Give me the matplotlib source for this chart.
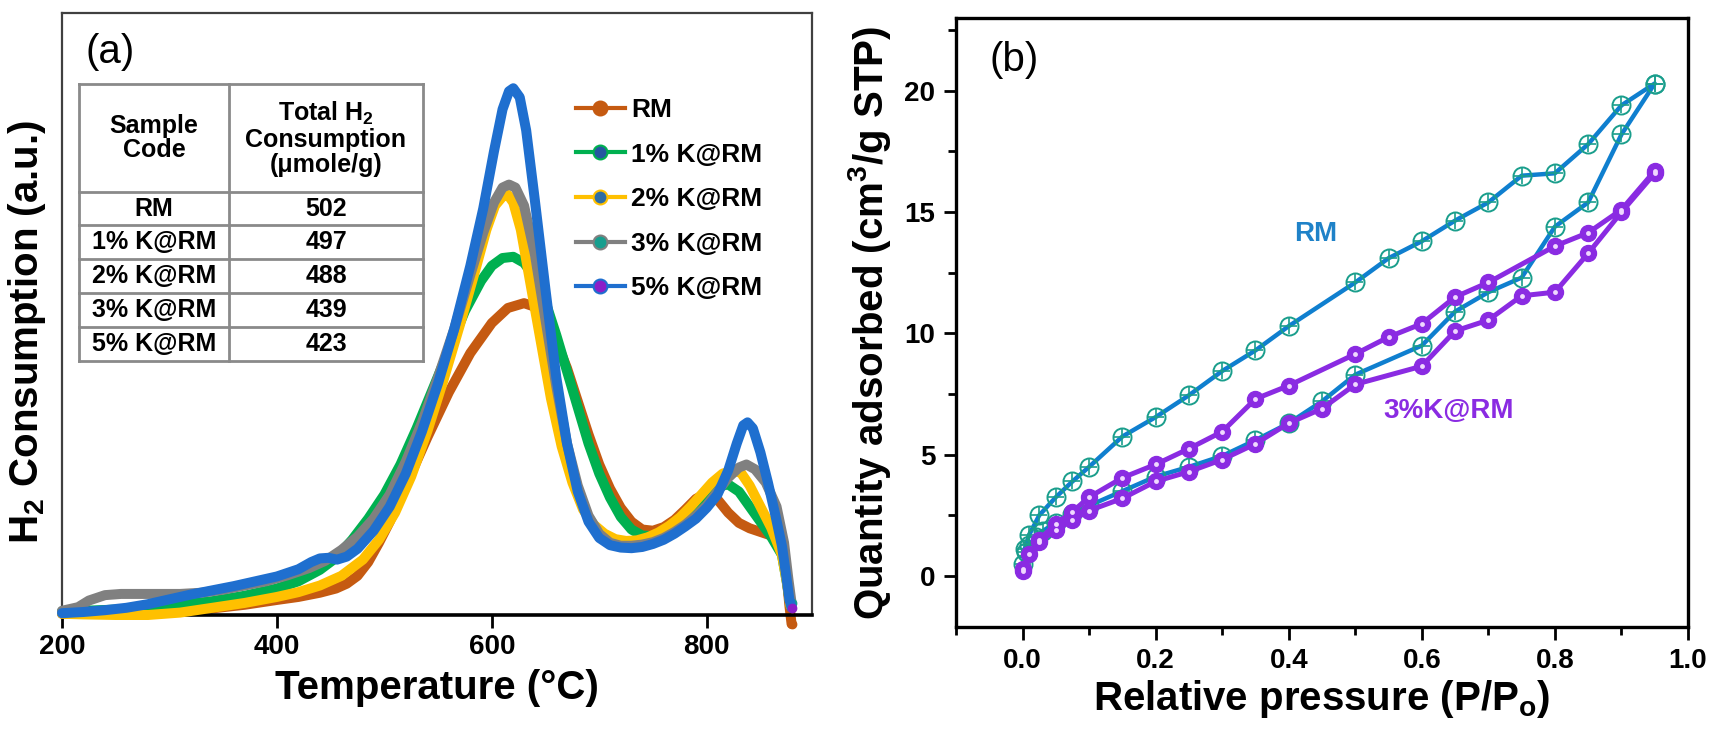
"""H2-TPR profiles (a) and N2 isotherms (b) for red mud / K@RM samples."""
import matplotlib

matplotlib.use("Agg")
import matplotlib.pyplot as plt
from matplotlib.font_manager import FontProperties
from matplotlib.lines import Line2D

plt.rcParams["font.family"] = ["Liberation Sans", "DejaVu Sans"]
plt.rcParams["mathtext.default"] = "regular"

# ---- panel (a): H2-TPR -------------------------------------------------------
tpr_labels = ["RM", "1% K@RM", "2% K@RM", "3% K@RM", "5% K@RM"]

t_rm = [200, 220, 250, 280, 310, 340, 370, 400, 420, 440, 455, 465, 475, 485, 495, 505,
        520, 540, 560, 580, 600, 615, 630, 640, 650, 660, 670, 680, 690, 700, 710, 720,
        730, 740, 750, 760, 770, 780, 790, 800, 810, 820, 830, 840, 850, 860, 866, 870,
        874, 877, 879]
h2_rm = [0.2, 0.2, 0.3, 0.4, 0.7, 1.1, 1.7, 2.5, 3.0, 3.7, 4.4, 5.2, 6.5, 8.8, 12, 15.5,
         21.5, 29.5, 37, 43.5, 48.5, 51, 51.8, 51.2, 49, 45.5, 41, 35.5, 30, 25, 21, 17.8,
         15.5, 14.2, 14, 14.6, 15.8, 17.5, 19.3, 20.2, 19.2, 17, 15.3, 14.4, 13.8, 13.2, 12.6,
         11.2, 7, 1.5, -1.5]

t_k1 = [200, 220, 250, 280, 310, 340, 370, 400, 420, 440, 455, 470, 485, 500, 515, 530,
        545, 560, 575, 590, 600, 610, 620, 630, 640, 650, 660, 670, 680, 690, 700, 710,
        720, 730, 740, 750, 760, 770, 780, 790, 800, 810, 820, 830, 840, 850, 860, 870,
        875, 878]
h2_k1 = [0.6, 0.7, 0.9, 1.2, 1.7, 2.3, 3.2, 4.4, 5.6, 7.5, 9.5, 12.5, 16, 20, 25, 31,
         37.5, 44, 50.5, 55.5, 58, 59.3, 59.5, 58.5, 56, 52, 46.5, 40.5, 34.5, 28.5, 23.5, 19.5,
         16.3, 14.2, 13.2, 13.1, 13.6, 14.6, 16, 18, 20, 21.3, 21.7, 20.5, 18, 15.5, 13, 10,
         5, 1.5]

t_k2 = [200, 220, 250, 280, 310, 340, 370, 400, 420, 440, 460, 480, 495, 510, 525, 540,
        555, 570, 585, 595, 603, 610, 615, 620, 627, 635, 645, 655, 665, 675, 685, 695,
        705, 715, 725, 735, 745, 755, 765, 775, 785, 795, 805, 815, 825, 832, 840, 850,
        860, 870, 875, 878]
h2_k2 = [0.2, 0.1, 0, 0, 0.4, 1.2, 2.0, 3.0, 3.8, 4.9, 6.5, 9.2, 12.5, 17, 23, 30.5,
         39, 48, 57.5, 64, 68, 69.5, 69.8, 68.5, 64, 56, 46, 36, 28, 22, 17.5, 15,
         13.5, 12.6, 12.3, 12.4, 12.9, 13.7, 14.8, 16.2, 18, 20, 22, 23.5, 24, 23.6, 21.5, 18,
         14.5, 10, 5, 1.5]

t_k3 = [200, 215, 225, 240, 255, 270, 290, 310, 330, 350, 370, 390, 410, 430, 445, 460,
        475, 490, 505, 520, 535, 550, 565, 580, 592, 602, 610, 616, 622, 630, 640, 650,
        660, 670, 680, 690, 700, 710, 720, 730, 740, 750, 760, 770, 780, 790, 800, 810,
        820, 830, 837, 845, 855, 865, 872, 876, 879]
h2_k3 = [0.7, 1.3, 2.4, 3.3, 3.5, 3.5, 3.5, 3.5, 3.7, 4.2, 4.9, 5.6, 6.6, 7.8, 9.0, 10.8,
         13.0, 16, 20, 25.5, 32, 39.5, 47.5, 56.5, 63.5, 68.5, 71, 71.5, 71, 68, 60, 49,
         38, 28.5, 21.5, 16.5, 13.5, 12, 11.5, 11.5, 11.7, 12.1, 12.8, 13.8, 15, 16.5, 18.2, 20.5,
         22.8, 24.5, 25, 24.2, 22, 18, 12, 6, 2]

t_k5 = [200, 220, 240, 260, 280, 300, 320, 340, 360, 380, 400, 420, 432, 440, 448, 456,
        465, 475, 490, 505, 520, 535, 550, 565, 580, 592, 602, 610, 616, 620, 626, 632,
        640, 650, 660, 670, 680, 690, 700, 710, 720, 730, 740, 750, 760, 770, 780, 790,
        800, 810, 820, 828, 834, 838, 843, 850, 857, 864, 870, 874, 877, 879]
h2_k5 = [0.3, 0.5, 0.8, 1.2, 1.8, 2.6, 3.4, 4.1, 4.8, 5.6, 6.4, 7.6, 8.8, 9.4, 9.5, 9.2,
         9.7, 11, 14, 18, 23.5, 30.5, 38.5, 47.5, 58, 67.5, 77, 84, 87, 87.5, 86, 80.5,
         69, 54, 39.5, 28.5, 20.5, 15.5, 12.8, 11.6, 11.2, 11.1, 11.3, 11.8, 12.5, 13.5, 14.7, 16,
         17.8, 20, 24, 28.5, 31.5, 32, 31, 27, 22, 16.5, 11.5, 6.5, 2.5, 1.2]

tpr_t = [t_rm, t_k1, t_k2, t_k3, t_k5]
tpr_h2 = [h2_rm, h2_k1, h2_k2, h2_k3, h2_k5]
line_colors = ["#c55a11", "#00b050", "#ffc000", "#808080", "#1f6fcf"]
marker_colors = ["#c55a11", "#2557a0", "#2e6da4", "#169e8e", "#8b1fc8"]

table_codes = ["RM", "1% K@RM", "2% K@RM", "3% K@RM", "5% K@RM"]
table_h2 = [502, 497, 488, 439, 423]

# ---- panel (b): N2 adsorption / desorption ------------------------------------
p_rm_ads = [0.0, 0.005, 0.01, 0.02, 0.03, 0.05, 0.075, 0.10, 0.15, 0.20, 0.25, 0.30,
            0.35, 0.40, 0.45, 0.50, 0.60, 0.65, 0.70, 0.75, 0.80, 0.85, 0.90, 0.95]
q_rm_ads = [0.5, 1.0, 1.3, 1.6, 1.85, 2.2, 2.55, 2.9, 3.5, 4.1, 4.5, 4.95,
            5.6, 6.3, 7.2, 8.3, 9.5, 10.9, 11.7, 12.3, 14.4, 15.4, 18.2, 20.3]
p_rm_des = [0.95, 0.90, 0.85, 0.80, 0.75, 0.70, 0.65, 0.60, 0.55, 0.50, 0.40, 0.35,
            0.30, 0.25, 0.20, 0.15, 0.10, 0.075, 0.05, 0.025, 0.01, 0.003]
q_rm_des = [20.3, 19.4, 17.8, 16.6, 16.5, 15.4, 14.65, 13.8, 13.1, 12.1, 10.3, 9.3,
            8.45, 7.45, 6.55, 5.75, 4.5, 3.9, 3.25, 2.5, 1.7, 1.1]

p_k3_ads = [0.0, 0.01, 0.025, 0.05, 0.075, 0.10, 0.15, 0.20, 0.25, 0.30, 0.35, 0.40,
            0.45, 0.50, 0.60, 0.65, 0.70, 0.75, 0.80, 0.85, 0.90, 0.95]
q_k3_ads = [0.2, 0.9, 1.4, 1.9, 2.3, 2.7, 3.2, 3.9, 4.3, 4.8, 5.45, 6.3,
            6.9, 7.9, 8.65, 10.1, 10.55, 11.55, 11.7, 13.3, 15.0, 16.6]
p_k3_des = [0.95, 0.90, 0.85, 0.80, 0.70, 0.65, 0.60, 0.55, 0.50, 0.40, 0.35, 0.30,
            0.25, 0.20, 0.15, 0.10, 0.075, 0.05, 0.025, 0.0]
q_k3_des = [16.7, 15.1, 14.15, 13.6, 12.1, 11.5, 10.4, 9.85, 9.15, 7.85, 7.3, 5.95,
            5.25, 4.6, 4.05, 3.25, 2.65, 2.15, 1.5, 0.3]

W, H = 1713, 740
fig = plt.figure(figsize=(W / 100, H / 100), dpi=100)


def fx(px):
    return px / W


def fy(py):
    return 1 - py / H


tick_font = FontProperties(family=["Liberation Sans", "DejaVu Sans"], weight="bold", size=20)
label_font = {"family": ["Liberation Sans", "DejaVu Sans"], "weight": "bold", "size": 29}
plain_bold = ["Liberation Sans", "DejaVu Sans"]

# ------------------------------------------------------------------ panel (a)
ax1 = fig.add_axes([fx(62), fy(615), fx(812) - fx(62), fy(13) - fy(615)])
for i, label in enumerate(tpr_labels):
    ax1.plot(tpr_t[i], tpr_h2[i], color=line_colors[i], lw=7.2, solid_capstyle="round",
             solid_joinstyle="round", marker="o", markevery=[-1], ms=6,
             mfc=marker_colors[i], mec=marker_colors[i], zorder=2 + i, clip_on=False)
ax1.set_xlim(200, 898)
ax1.set_ylim(0, 100)
ax1.set_yticks([])
ax1.set_xticks([200, 400, 600, 800])
ax1.tick_params(axis="x", direction="out", length=9, width=2, pad=5)
for lbl in ax1.get_xticklabels():
    lbl.set_fontproperties(tick_font)
ax1.set_xlabel("Temperature (°C)", fontdict=label_font, labelpad=6)
ax1.set_ylabel("H$_2$ Consumption (a.u.)", fontdict=label_font)
ax1.yaxis.set_label_coords(-0.018, 0.47)
for side in ("left", "top", "right"):
    ax1.spines[side].set_linewidth(1.6)
    ax1.spines[side].set_color("#404040")
ax1.spines["bottom"].set_linewidth(2.6)
ax1.text(fx(85), fy(52), "(a)", transform=fig.transFigure, fontsize=29,
         va="center", ha="left")

handles = [Line2D([], [], color=line_colors[i], lw=3, marker="o", ms=10,
                  mfc=marker_colors[i], mec=line_colors[i], mew=1.5)
           for i in range(len(tpr_labels))]
ax1.legend(handles, tpr_labels, loc="upper left", bbox_to_anchor=(fx(576), fy(98)),
           bbox_transform=fig.transFigure, frameon=False, borderpad=0, borderaxespad=0,
           handlelength=1.85, handletextpad=0.25, labelspacing=0.78,
           prop={"family": plain_bold, "weight": "bold", "size": 19})

# summary table drawn in figure pixels
col_x = [79, 229, 423]
row_y = [84, 192, 225, 259, 293, 327, 361]
grid_kw = dict(color="#8a8a8a", lw=2.0, transform=fig.transFigure)
for x in col_x:
    fig.add_artist(Line2D([fx(x), fx(x)], [fy(row_y[0]), fy(row_y[-1])], **grid_kw))
for y in row_y:
    fig.add_artist(Line2D([fx(col_x[0]), fx(col_x[-1])], [fy(y), fy(y)], **grid_kw))
cell_font = dict(family=plain_bold, weight="bold", size=18, ha="center", va="center",
                 transform=fig.transFigure, linespacing=1.05)
fig.text(fx((col_x[0] + col_x[1]) / 2), fy((row_y[0] + row_y[1]) / 2), "Sample\nCode", **cell_font)
fig.text(fx((col_x[1] + col_x[2]) / 2), fy((row_y[0] + row_y[1]) / 2),
         "Total H$_2$\nConsumption\n(μmole/g)", **cell_font)
for k, code in enumerate(table_codes):
    yc = fy((row_y[k + 1] + row_y[k + 2]) / 2)
    fig.text(fx((col_x[0] + col_x[1]) / 2), yc, code, **cell_font)
    fig.text(fx((col_x[1] + col_x[2]) / 2), yc, str(table_h2[k]), **cell_font)

# ------------------------------------------------------------------ panel (b)
ax2 = fig.add_axes([fx(956), fy(627), fx(1688) - fx(956), fy(18) - fy(627)])
rm_line = "#0f7fcf"
rm_mark = "#1a9e8c"
k3_col = "#8a2be2"
ax2.plot(p_rm_ads + p_rm_des, q_rm_ads + q_rm_des, color=rm_line, lw=3.2, zorder=3)
for pp, qq in ((p_rm_ads, q_rm_ads), (p_rm_des, q_rm_des)):
    ax2.plot(pp, qq, ls="none", marker="o", ms=13, mfc="none", mec=rm_mark, mew=1.4, zorder=4)
    ax2.plot(pp, qq, ls="none", marker="+", ms=12, mec=rm_mark, mew=1.2, zorder=4)
ax2.plot(p_k3_ads + p_k3_des, q_k3_ads + q_k3_des, color=k3_col, lw=3.6, zorder=5)
for pp, qq in ((p_k3_ads, q_k3_ads), (p_k3_des, q_k3_des)):
    ax2.plot(pp, qq, ls="none", marker="o", ms=11.5, mfc=k3_col, mec=k3_col, zorder=6)
    ax2.plot(pp, qq, ls="none", marker="o", ms=3.5, mfc="#f0d8ff", mec="none", zorder=7)

ax2.set_xlim(-0.1, 1.0)
ax2.set_ylim(-2.1, 23.0)
ax2.set_xticks([0.0, 0.2, 0.4, 0.6, 0.8, 1.0])
ax2.set_xticks([-0.1, 0.1, 0.3, 0.5, 0.7, 0.9], minor=True)
ax2.set_yticks([0, 5, 10, 15, 20])
ax2.set_yticks([2.5, 7.5, 12.5, 17.5, 22.5], minor=True)
ax2.set_xticklabels(["0.0", "0.2", "0.4", "0.6", "0.8", "1.0"])
ax2.tick_params(which="major", direction="out", length=9, width=2)
ax2.tick_params(which="minor", direction="out", length=6, width=2)
ax2.tick_params(axis="x", pad=6)
ax2.tick_params(axis="y", pad=6)
for lbl in ax2.get_xticklabels() + ax2.get_yticklabels():
    lbl.set_fontproperties(tick_font)
ax2.set_xlabel("Relative pressure (P/P$_o$)", fontdict=label_font, labelpad=3)
ax2.set_ylabel("Quantity adsorbed (cm$^3$/g STP)", fontdict=label_font, labelpad=8)
for side in ax2.spines:
    ax2.spines[side].set_linewidth(2.4)
ax2.text(fx(989), fy(60), "(b)", transform=fig.transFigure, fontsize=29,
         va="center", ha="left")
ax2.text(0.44, 14.1, "RM", color="#1f82c8", fontsize=20, weight="bold", family=plain_bold,
         ha="center", va="center")
ax2.text(0.64, 6.8, "3%K@RM", color=k3_col, fontsize=20, weight="bold", family=plain_bold,
         ha="center", va="center")

fig.savefig("out.png", dpi=100)
